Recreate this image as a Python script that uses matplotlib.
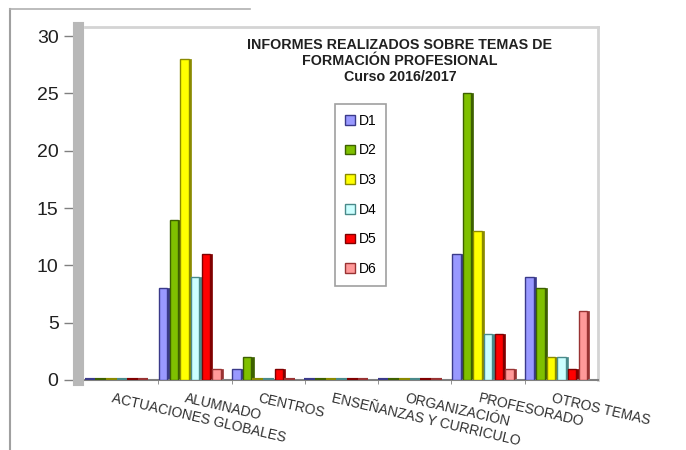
import matplotlib
matplotlib.use('Agg')
import matplotlib.pyplot as plt
from matplotlib.lines import Line2D
from matplotlib.transforms import ScaledTranslation

plt.rcParams['font.family'] = ['Liberation Sans', 'DejaVu Sans']

categories = ['ACTUACIONES GLOBALES', 'ALUMNADO', 'CENTROS',
              'ENSEÑANZAS Y CURRICULO', 'ORGANIZACIÓN', 'PROFESORADO',
              'OTROS TEMAS']
series = ['D1', 'D2', 'D3', 'D4', 'D5', 'D6']
d1 = [0, 8, 1, 0, 0, 11, 9]
d2 = [0, 14, 2, 0, 0, 25, 8]
d3 = [0, 28, 0, 0, 0, 13, 2]
d4 = [0, 9, 0, 0, 0, 4, 2]
d5 = [0, 11, 1, 0, 0, 4, 1]
d6 = [0, 1, 0, 0, 0, 1, 6]
values = [d1, d2, d3, d4, d5, d6]

faces = ['#9999ff', '#7fc000', '#ffff00', '#ccffff', '#ff0000', '#ff9999']
sides = ['#3a3a8a', '#3d6000', '#8a8a00', '#4a8a8a', '#800000', '#993333']

fig = plt.figure(figsize=(6.86, 4.5), dpi=100)
ax = fig.add_axes([85 / 686, 1 - 380 / 450, 513 / 686, 353 / 450])

w = 0.115
depth = 0.03
x = list(range(len(categories)))
for j, (vals, fc, sc) in enumerate(zip(values, faces, sides)):
    pos = [i + (j - 2.5) * 0.145 - 0.07 for i in x]
    # side face for a bit of 3d look
    ax.bar([p + w / 2 + depth / 2 for p in pos], vals, width=depth,
           color=sc, edgecolor=sc, linewidth=0.5, zorder=2)
    ax.bar(pos, vals, width=w, color=fc, edgecolor=sc, linewidth=1.0,
           zorder=3, label=series[j])
    zero = [p for p, v in zip(pos, vals) if v == 0]
    ax.bar(zero, [0] * len(zero), width=w + depth, color=fc,
           edgecolor=sc, linewidth=3, zorder=3)

ax.set_xlim(-0.5, len(categories) - 0.5)
ax.set_ylim(0, 30.8)
ax.set_yticks(range(0, 31, 5))
ax.tick_params(axis='y', labelsize=14, length=10, width=1,
               color='#808080', pad=4, labelcolor='#202020')
ax.set_xticks([i - 0.5 for i in range(1, len(categories))], minor=True)
ax.tick_params(axis='x', which='minor', length=3, color='#808080')
ax.set_xticks(x)
ax.set_xticklabels(categories, rotation=-13, ha='left', va='top',
                   rotation_mode='anchor', fontsize=10, color='#303030')
ax.tick_params(axis='x', which='major', length=0, pad=8)
for lab in ax.get_xticklabels():
    lab.set_transform(lab.get_transform()
                      + ScaledTranslation(-0.08, 0, fig.dpi_scale_trans))

for s in ['top', 'right']:
    ax.spines[s].set_color('#d4d4d4')
    ax.spines[s].set_linewidth(2)
ax.spines['left'].set_position(('outward', 5))
ax.spines['left'].set_color('#b8b8b8')
ax.spines['left'].set_linewidth(8)
ax.spines['bottom'].set_color('#808080')
ax.spines['bottom'].set_linewidth(1.5)

leg = ax.legend(loc='center', bbox_to_anchor=(0.526, 0.567),
                bbox_transform=fig.transFigure, fontsize=10,
                labelspacing=1.13, handlelength=0.7, handleheight=0.7,
                handletextpad=0.3, borderpad=0.7, fancybox=False,
                framealpha=1, edgecolor='#a0a0a0')
leg.get_frame().set_linewidth(1.2)

fig.text(0.583, 1 - 38 / 450,
         'INFORMES REALIZADOS SOBRE TEMAS DE\nFORMACIÓN PROFESIONAL\n'
         'Curso 2016/2017', ha='center', va='top', fontsize=10.3,
         fontweight='bold', linespacing=1.2, color='#202020')

# outer frame remains of the original chart border
fig.add_artist(Line2D([10 / 686, 10 / 686], [0, 1 - 9 / 450],
                      transform=fig.transFigure, color='#a0a0a0', lw=1.5))
fig.add_artist(Line2D([10 / 686, 250 / 686], [1 - 9 / 450, 1 - 9 / 450],
                      transform=fig.transFigure, color='#b0b0b0', lw=1.2))

fig.savefig('out.png', dpi=100)
